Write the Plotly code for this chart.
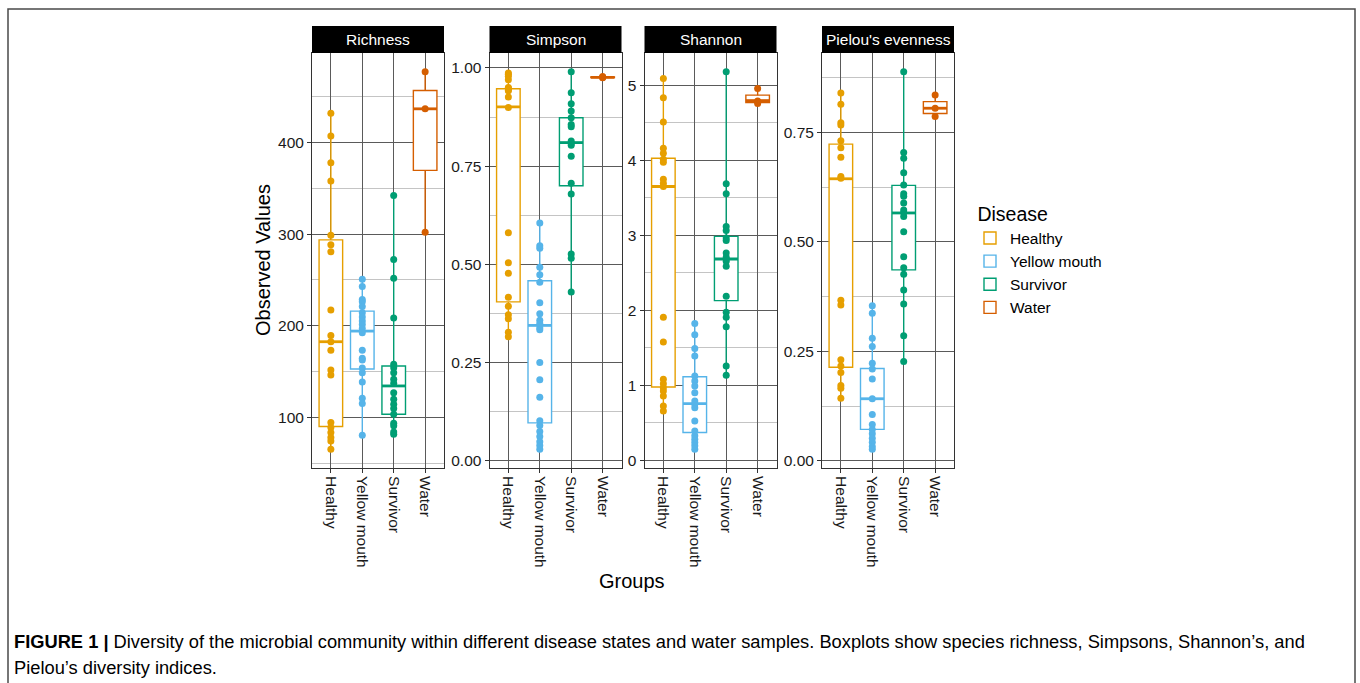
import numpy as np
import plotly.graph_objects as go

# ---------------- data ----------------
groups = ["Healthy", "Yellow mouth", "Survivor", "Water"]
colors = ["#E69F00", "#56B4E9", "#009E73", "#D55E00"]
metrics = ["Richness", "Simpson", "Shannon", "Pielou's evenness"]

# Richness
richness_healthy = [431.9, 406.9, 377.9, 357.9, 298.8, 288.3, 280.7, 217.2, 189.6, 182.7,
                    173.3, 151.9, 146.5, 94.6, 89.2, 83.7, 78.3, 74.6, 65.6]
richness_yellow = [250.9, 242.9, 228.8, 226.3, 221.2, 214.3, 209.6, 205.2, 201.6, 197.2,
                   192.5, 173.3, 164.6, 162.8, 154.1, 149.0, 138.9, 121.1, 115.3, 80.8]
richness_survivor = [342.0, 272.3, 252.0, 208.5, 158.1, 154.4, 149.0, 141.7, 137.4, 127.2,
                     120.0, 114.5, 109.8, 103.7, 93.9, 91.0, 84.4, 81.9]
richness_water = [476.9, 436.6, 302.1]
richness_q1 = [90.2, 153.0, 103.7, 369.5]
richness_median = [182.7, 194.3, 134.5, 436.6]
richness_q3 = [293.7, 216.1, 156.3, 456.6]

# Simpson
simpson_healthy = [0.987, 0.984, 0.979, 0.970, 0.950, 0.948, 0.944, 0.942, 0.926, 0.899,
                   0.580, 0.504, 0.477, 0.416, 0.393, 0.371, 0.361, 0.327, 0.315]
simpson_yellow = [0.605, 0.547, 0.541, 0.492, 0.473, 0.454, 0.402, 0.374, 0.357, 0.349,
                  0.338, 0.333, 0.250, 0.206, 0.161, 0.101, 0.089, 0.074, 0.061, 0.048,
                  0.038, 0.029]
simpson_survivor = [0.990, 0.937, 0.909, 0.890, 0.873, 0.856, 0.850, 0.814, 0.808, 0.803,
                    0.775, 0.706, 0.679, 0.526, 0.515, 0.429]
simpson_water = [0.975, 0.976, 0.978]
simpson_q1 = [0.404, 0.096, 0.700, 0.9755]
simpson_median = [0.901, 0.344, 0.810, 0.976]
simpson_q3 = [0.947, 0.458, 0.873, 0.977]

# Shannon
shannon_healthy = [5.089, 4.832, 4.508, 4.159, 4.092, 4.012, 3.973, 3.747, 3.694, 3.649,
                   1.909, 1.577, 1.081, 1.023, 0.970, 0.926, 0.859, 0.726, 0.660]
shannon_yellow = [1.825, 1.674, 1.493, 1.391, 1.125, 1.058, 0.992, 0.903, 0.793, 0.748,
                  0.704, 0.527, 0.394, 0.328, 0.283, 0.239, 0.195, 0.151]
shannon_survivor = [5.177, 3.685, 3.552, 3.118, 3.065, 2.963, 2.932, 2.764, 2.710, 2.684,
                    2.653, 2.586, 2.188, 1.975, 1.909, 1.780, 1.258, 1.134]
shannon_water = [4.956, 4.790, 4.755]
shannon_q1 = [0.979, 0.372, 2.130, 4.768]
shannon_median = [3.650, 0.757, 2.684, 4.795]
shannon_q3 = [4.026, 1.116, 2.985, 4.867]

# Pielou's evenness
pielou_healthy = [0.840, 0.814, 0.772, 0.767, 0.731, 0.715, 0.693, 0.649, 0.645, 0.367,
                  0.356, 0.231, 0.217, 0.202, 0.172, 0.166, 0.143]
pielou_yellow = [0.354, 0.337, 0.280, 0.261, 0.223, 0.210, 0.187, 0.142, 0.106, 0.083,
                 0.072, 0.062, 0.052, 0.043, 0.033, 0.027]
pielou_survivor = [0.888, 0.704, 0.691, 0.658, 0.630, 0.610, 0.604, 0.589, 0.573, 0.567,
                   0.558, 0.523, 0.466, 0.441, 0.426, 0.390, 0.358, 0.286, 0.227]
pielou_water = [0.835, 0.805, 0.786]
pielou_q1 = [0.214, 0.072, 0.436, 0.793]
pielou_median = [0.644, 0.142, 0.566, 0.805]
pielou_q3 = [0.723, 0.211, 0.629, 0.820]

panel_points = [
    [richness_healthy, richness_yellow, richness_survivor, richness_water],
    [simpson_healthy, simpson_yellow, simpson_survivor, simpson_water],
    [shannon_healthy, shannon_yellow, shannon_survivor, shannon_water],
    [pielou_healthy, pielou_yellow, pielou_survivor, pielou_water],
]
panel_q1 = [richness_q1, simpson_q1, shannon_q1, pielou_q1]
panel_med = [richness_median, simpson_median, shannon_median, pielou_median]
panel_q3 = [richness_q3, simpson_q3, shannon_q3, pielou_q3]

y_dtick = [100, 0.25, 1, 0.25]
y_format = ["d", ".2f", "d", ".2f"]

caption_bold = "FIGURE 1 |"
caption_line1 = (" Diversity of the microbial community within different disease states and water "
                 "samples. Boxplots show species richness, Simpsons, Shannon\u2019s, and")
caption_line2 = "Pielou\u2019s diversity indices."

# ---------------- layout constants (pixels) ----------------
W, H = 1360, 683
FONT = "Liberation Sans, Arial, Helvetica, sans-serif"
panel_px = [(312, 444), (489.5, 621.5), (644.5, 776.5), (822, 954)]
plot_top, plot_bot = 53, 468
strip_top = 26
BOX_W = 0.75
MAJOR = "#5a5a5a"
MINOR = "#c4c4c4"
EDGE = "#333333"


def px_x(x):
    return x / W


def px_y(y):
    return (H - y) / H


fig = go.Figure()
layout_axes = {}

for p in range(4):
    sfx = "" if p == 0 else str(p + 1)
    xa, ya = "x" + sfx, "y" + sfx
    pos = np.arange(1, len(groups) + 1)
    # boxes
    for g in range(len(groups)):
        vals = np.array(panel_points[p][g])
        fig.add_trace(go.Box(
            x=[pos[g]], q1=[panel_q1[p][g]], median=[panel_med[p][g]], q3=[panel_q3[p][g]],
            lowerfence=[vals.min()], upperfence=[vals.max()],
            width=BOX_W, whiskerwidth=0, boxpoints=False,
            line=dict(color=colors[g], width=1.4), fillcolor="white",
            name=groups[g], legendgroup=groups[g], showlegend=(p == 0),
            xaxis=xa, yaxis=ya, hoverinfo="skip",
        ))
    # thicker median lines
    for g in range(len(groups)):
        fig.add_trace(go.Scatter(
            x=[pos[g] - BOX_W / 2, pos[g] + BOX_W / 2],
            y=[panel_med[p][g], panel_med[p][g]],
            mode="lines", line=dict(color=colors[g], width=2.8),
            showlegend=False, xaxis=xa, yaxis=ya, hoverinfo="skip",
        ))
    # points
    for g in range(len(groups)):
        vals = panel_points[p][g]
        fig.add_trace(go.Scatter(
            x=[pos[g]] * len(vals), y=vals, mode="markers",
            marker=dict(color=colors[g], size=7, line=dict(width=0)),
            showlegend=False, xaxis=xa, yaxis=ya, hoverinfo="skip",
        ))

    allv = np.concatenate([np.array(v, dtype=float) for v in panel_points[p]])
    lo, hi = allv.min(), allv.max()
    pad = (hi - lo) * 0.05
    x0, x1 = panel_px[p]
    layout_axes["xaxis" + sfx] = dict(
        domain=[px_x(x0), px_x(x1)], anchor=ya, range=[0.4, len(groups) + 0.6],
        tickvals=list(pos), ticktext=groups, tickangle=90,
        showgrid=True, gridcolor=MAJOR, gridwidth=1, zeroline=False,
        showline=True, linecolor=EDGE, linewidth=1, mirror=True,
        ticks="outside", ticklen=4, tickcolor=EDGE,
        tickfont=dict(family=FONT, size=15.5, color="#1a1a1a"),
    )
    layout_axes["yaxis" + sfx] = dict(
        domain=[px_y(plot_bot), px_y(plot_top)], anchor=xa, range=[lo - pad, hi + pad],
        tick0=0, dtick=y_dtick[p], tickformat=y_format[p],
        showgrid=True, gridcolor=MAJOR, gridwidth=1, zeroline=False,
        minor=dict(tick0=0, dtick=y_dtick[p] / 2, showgrid=True, gridcolor=MINOR, gridwidth=1),
        showline=True, linecolor=EDGE, linewidth=1, mirror=True,
        ticks="outside", ticklen=4, tickcolor=EDGE,
        tickfont=dict(family=FONT, size=15.5, color="#1a1a1a"),
    )

shapes = []
annotations = []
for p in range(4):
    x0, x1 = panel_px[p]
    shapes.append(dict(type="rect", xref="paper", yref="paper",
                       x0=px_x(x0), x1=px_x(x1), y0=px_y(plot_top), y1=px_y(strip_top),
                       fillcolor="black", line=dict(width=0), layer="above"))
    annotations.append(dict(xref="paper", yref="paper", x=px_x((x0 + x1) / 2),
                            y=px_y((plot_top + strip_top) / 2), text=metrics[p],
                            showarrow=False, xanchor="center", yanchor="middle",
                            font=dict(family=FONT, size=15.5, color="white")))

# outer frame
shapes.append(dict(type="rect", xref="paper", yref="paper",
                   x0=px_x(8), x1=px_x(1355), y0=-0.05, y1=px_y(9),
                   line=dict(color="#4a4a4a", width=1.5), fillcolor="rgba(0,0,0,0)"))

annotations.append(dict(xref="paper", yref="paper", x=px_x(263), y=px_y(260),
                        text="Observed Values", textangle=-90, showarrow=False,
                        xanchor="center", yanchor="middle",
                        font=dict(family=FONT, size=20, color="black")))
annotations.append(dict(xref="paper", yref="paper", x=px_x(632), y=px_y(581),
                        text="Groups", showarrow=False, xanchor="center", yanchor="middle",
                        font=dict(family=FONT, size=20, color="black")))
annotations.append(dict(xref="paper", yref="paper", x=px_x(12), y=px_y(641),
                        text="<b>" + caption_bold + "</b>" + caption_line1, showarrow=False,
                        xanchor="left", yanchor="middle",
                        font=dict(family=FONT, size=18.3, color="black")))
annotations.append(dict(xref="paper", yref="paper", x=px_x(12), y=px_y(667),
                        text=caption_line2, showarrow=False,
                        xanchor="left", yanchor="middle",
                        font=dict(family=FONT, size=18.3, color="black")))

fig.update_layout(
    width=W, height=H, margin=dict(l=0, r=0, t=0, b=0),
    paper_bgcolor="white", plot_bgcolor="white",
    font=dict(family=FONT),
    shapes=shapes, annotations=annotations,
    legend=dict(x=px_x(970), y=px_y(196), xanchor="left", yanchor="top",
                title=dict(text="&nbsp;Disease", font=dict(family=FONT, size=19.5, color="black")),
                font=dict(family=FONT, size=15.5, color="black"),
                bgcolor="rgba(0,0,0,0)", tracegroupgap=0),
    **layout_axes,
)

fig.write_html(
    "out.html",
    config={"displayModeBar": False},
    post_script="document.body.style.margin='0';document.body.style.padding='0';"
                "document.body.style.overflow='hidden';",
)
